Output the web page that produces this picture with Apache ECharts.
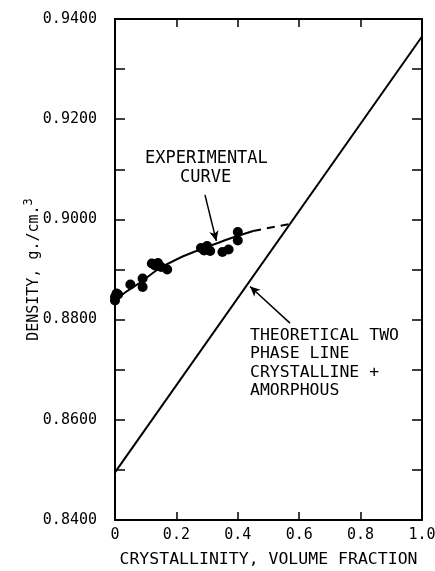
<!DOCTYPE html>
<html>
<head>
<meta charset="utf-8">
<script src="https://cdn.jsdelivr.net/npm/echarts@6/dist/echarts.min.js"></script>
<style>
html,body{margin:0;padding:0;background:#fff;}
#c{width:435px;height:571px;}
</style>
</head>
<body>
<div id="c"></div>
<script>
// Measured points (crystallinity, density)
const pointX = [0.0, 0.0, 0.005, 0.01, 0.05, 0.09, 0.09, 0.12, 0.13, 0.14, 0.15, 0.17, 0.28, 0.29, 0.30, 0.31, 0.35, 0.37, 0.40, 0.40];
const pointY = [0.8838, 0.8845, 0.8852, 0.8850, 0.8870, 0.8865, 0.8882, 0.8912, 0.8908, 0.8913, 0.8905, 0.8900, 0.8943, 0.8938, 0.8947, 0.8937, 0.8935, 0.8940, 0.8958, 0.8975];
// Experimental curve (solid part)
const curveX = [0.0, 0.04, 0.08, 0.14, 0.21, 0.30, 0.37, 0.45];
const curveY = [0.8838, 0.8857, 0.8873, 0.8900, 0.8923, 0.8945, 0.8961, 0.8977];
// Extrapolated (dashed) part
const dashX = [0.45, 0.57];
const dashY = [0.8977, 0.8991];
// Theoretical two phase line
const theoX = [0.0, 1.0];
const theoY = [0.8495, 0.9365];
// Axis ticks
const xMin = 0, xMax = 1.0, xStep = 0.2;
const yMin = 0.84, yMax = 0.94, yStep = 0.02;
// Annotation arrows [from, to]
const arrowExp = [[0.293, 0.9049], [0.330, 0.8957]];
const arrowTheo = [[0.570, 0.8793], [0.440, 0.8866]];

const zip = (a, b) => a.map((v, i) => [v, b[i]]);
const FONT = '"DejaVu Sans Mono", monospace';
const BLACK = '#000';

const chart = echarts.init(document.getElementById('c'));
const axisLine = {show: true, onZero: false, lineStyle: {color: BLACK, width: 2}};
chart.setOption({
  animation: false,
  backgroundColor: '#fff',
  grid: {left: 115, right: 13, top: 19, bottom: 51, containLabel: false, outerBoundsMode: 'none'},
  xAxis: [{
    type: 'value', min: xMin, max: xMax, interval: xStep, position: 'bottom',
    axisLine: axisLine,
    axisTick: {show: true, inside: true, length: 8, lineStyle: {color: BLACK, width: 1.5}},
    splitLine: {show: false},
    axisLabel: {color: BLACK, fontFamily: FONT, fontSize: 15, margin: 8,
      formatter: v => v === 0 ? '0' : v.toFixed(1)},
    name: 'CRYSTALLINITY, VOLUME FRACTION', nameLocation: 'middle', nameGap: 31,
    nameMoveOverlap: false,
    nameTextStyle: {color: BLACK, fontFamily: FONT, fontSize: 16.5}
  }, {
    type: 'value', min: xMin, max: xMax, interval: xStep, position: 'top',
    axisLine: axisLine,
    axisTick: {show: true, inside: true, length: 8, lineStyle: {color: BLACK, width: 1.5}},
    axisLabel: {show: false}, splitLine: {show: false}
  }],
  yAxis: [{
    type: 'value', min: yMin, max: yMax, interval: yStep, position: 'left',
    axisLine: axisLine,
    axisTick: {show: true, inside: true, length: 10, lineStyle: {color: BLACK, width: 1.5}},
    minorTick: {show: true, splitNumber: 2, length: 10, lineStyle: {color: BLACK, width: 1.5}},
    splitLine: {show: false},
    axisLabel: {color: BLACK, fontFamily: FONT, fontSize: 15, margin: 18,
      formatter: v => v.toFixed(4)},
    name: 'DENSITY, g./cm.{s|3}', nameLocation: 'middle', nameGap: 70,
    nameMoveOverlap: false,
    nameTextStyle: {color: BLACK, fontFamily: FONT, fontSize: 15,
      rich: {s: {fontFamily: FONT, fontSize: 12, color: BLACK, verticalAlign: 'top', lineHeight: 22}}}
  }, {
    type: 'value', min: yMin, max: yMax, interval: yStep, position: 'right',
    axisLine: axisLine,
    axisTick: {show: true, inside: true, length: 10, lineStyle: {color: BLACK, width: 1.5}},
    minorTick: {show: true, splitNumber: 2, length: 10, lineStyle: {color: BLACK, width: 1.5}},
    axisLabel: {show: false}, splitLine: {show: false}
  }],
  series: [
    {type: 'line', data: zip(theoX, theoY), symbol: 'none',
     lineStyle: {color: BLACK, width: 2}},
    {type: 'line', data: zip(curveX, curveY), symbol: 'none', smooth: 0.3,
     lineStyle: {color: BLACK, width: 2}},
    {type: 'line', data: zip(dashX, dashY), symbol: 'none',
     lineStyle: {color: BLACK, width: 2, type: [8, 6]}},
    {type: 'scatter', data: zip(pointX, pointY), symbol: 'circle', symbolSize: 10,
     itemStyle: {color: BLACK, opacity: 1}},
    {type: 'line', data: [], symbol: 'none',
     markLine: {silent: true, symbol: ['none', 'arrow'], symbolSize: [7, 10],
       label: {show: false},
       lineStyle: {color: BLACK, width: 1.5, type: 'solid'},
       data: [
         [{coord: arrowExp[0]}, {coord: arrowExp[1]}],
         [{coord: arrowTheo[0]}, {coord: arrowTheo[1]}]
       ]}}
  ],
  graphic: [
    {type: 'text', left: 145, top: 150,
     style: {text: 'EXPERIMENTAL', font: '17px ' + FONT, fill: BLACK}},
    {type: 'text', left: 180, top: 169,
     style: {text: 'CURVE', font: '17px ' + FONT, fill: BLACK}},
    {type: 'text', left: 250, top: 326,
     style: {text: 'THEORETICAL TWO\nPHASE LINE\nCRYSTALLINE +\nAMORPHOUS',
       font: '16.5px ' + FONT, fill: BLACK, lineHeight: 18.5}}
  ]
});
</script>
</body>
</html>
